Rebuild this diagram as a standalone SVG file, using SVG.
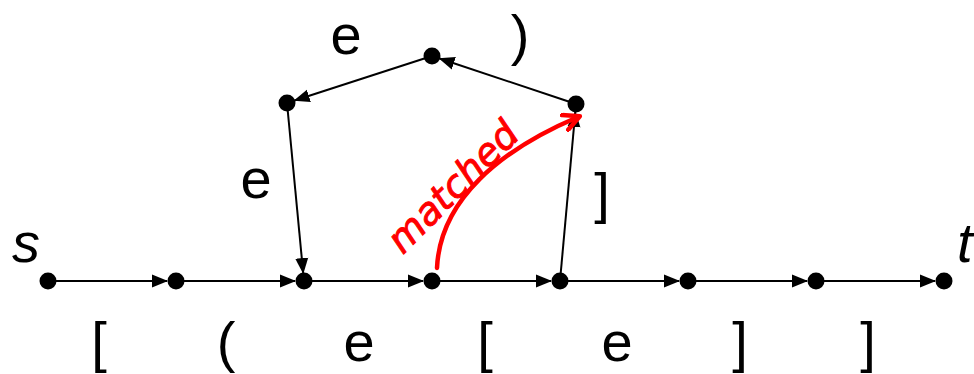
<svg xmlns="http://www.w3.org/2000/svg" width="974" height="374" viewBox="0 0 974 374">
<style>
.n{fill:#000}
.e{stroke:#000;stroke-width:2;fill:none;marker-end:url(#ah)}
.l{font-family:"Liberation Sans",Arial,sans-serif;font-size:56px;fill:#000;text-anchor:middle}
.i{font-style:italic}
</style>
<defs>
<marker id="ah" markerUnits="userSpaceOnUse" markerWidth="16" markerHeight="14" refX="15" refY="7" orient="auto" viewBox="0 0 16 14">
<path d="M0,0.5 L16,7 L0,13.5 z" fill="#000"/>
</marker>
<marker id="rh" markerUnits="userSpaceOnUse" markerWidth="22" markerHeight="20" refX="16" refY="10" orient="auto" viewBox="0 0 22 20">
<path d="M2,2 L18,10 L2,18" fill="none" stroke="#f00" stroke-width="4.5" stroke-linecap="round" stroke-linejoin="round"/>
</marker>
</defs>
<g id="connectors">
<line class="e" x1="48" y1="281" x2="167" y2="281"/>
<line class="e" x1="176" y1="281" x2="295" y2="281"/>
<line class="e" x1="304" y1="281" x2="423" y2="281"/>
<line class="e" x1="432" y1="281" x2="551" y2="281"/>
<line class="e" x1="560" y1="281" x2="679" y2="281"/>
<line class="e" x1="688" y1="281" x2="807" y2="281"/>
<line class="e" x1="816" y1="281" x2="935" y2="281"/>
<line class="e" x1="560" y1="281" x2="575.3" y2="112"/>
<line class="e" x1="576" y1="104" x2="439.6" y2="58.5"/>
<line class="e" x1="432" y1="56" x2="294.6" y2="100.5"/>
<line class="e" x1="287" y1="103" x2="303.2" y2="273"/>
</g>
<g id="n1"><circle class="n" cx="48" cy="281" r="8.5"/><text class="l i" x="26" y="262">s</text></g>
<g id="n2"><circle class="n" cx="176" cy="281" r="8.5"/></g>
<g id="n3"><circle class="n" cx="304" cy="281" r="8.5"/></g>
<g id="n4"><circle class="n" cx="432" cy="281" r="8.5"/></g>
<g id="n5"><circle class="n" cx="560" cy="281" r="8.5"/></g>
<g id="n6"><circle class="n" cx="688" cy="281" r="8.5"/></g>
<g id="n7"><circle class="n" cx="816" cy="281" r="8.5"/></g>
<g id="n8"><circle class="n" cx="944" cy="281" r="8.5"/><text class="l i" x="957" y="262" style="text-anchor:start">t</text></g>
<g id="u1"><circle class="n" cx="287" cy="103" r="8.5"/></g>
<g id="u2"><circle class="n" cx="432" cy="56" r="8.5"/></g>
<g id="u3"><circle class="n" cx="576" cy="104" r="8.5"/></g>
<g id="labels">
<text class="l" x="99" y="361">[</text>
<text class="l" x="226" y="361">(</text>
<text class="l" x="359" y="361">e</text>
<text class="l" x="485" y="361">[</text>
<text class="l" x="617" y="361">e</text>
<text class="l" x="740" y="361">]</text>
<text class="l" x="868" y="361">]</text>
<text class="l" x="346" y="54">e</text>
<text class="l" x="520" y="54">)</text>
<text class="l" x="256" y="198">e</text>
<text class="l" x="602" y="212">]</text>
</g>
<g id="matched">
<path d="M437,268 C440,200 500,150 578,117" fill="none" stroke="#f00" stroke-width="4.5" stroke-linecap="round" marker-end="url(#rh)"/>
<text x="462" y="196" transform="rotate(-45 462 196)" font-family="DejaVu Sans, sans-serif" font-style="italic" font-size="38" fill="#f00" text-anchor="middle" stroke="#f00" stroke-width="1">matched</text>
</g>
</svg>
